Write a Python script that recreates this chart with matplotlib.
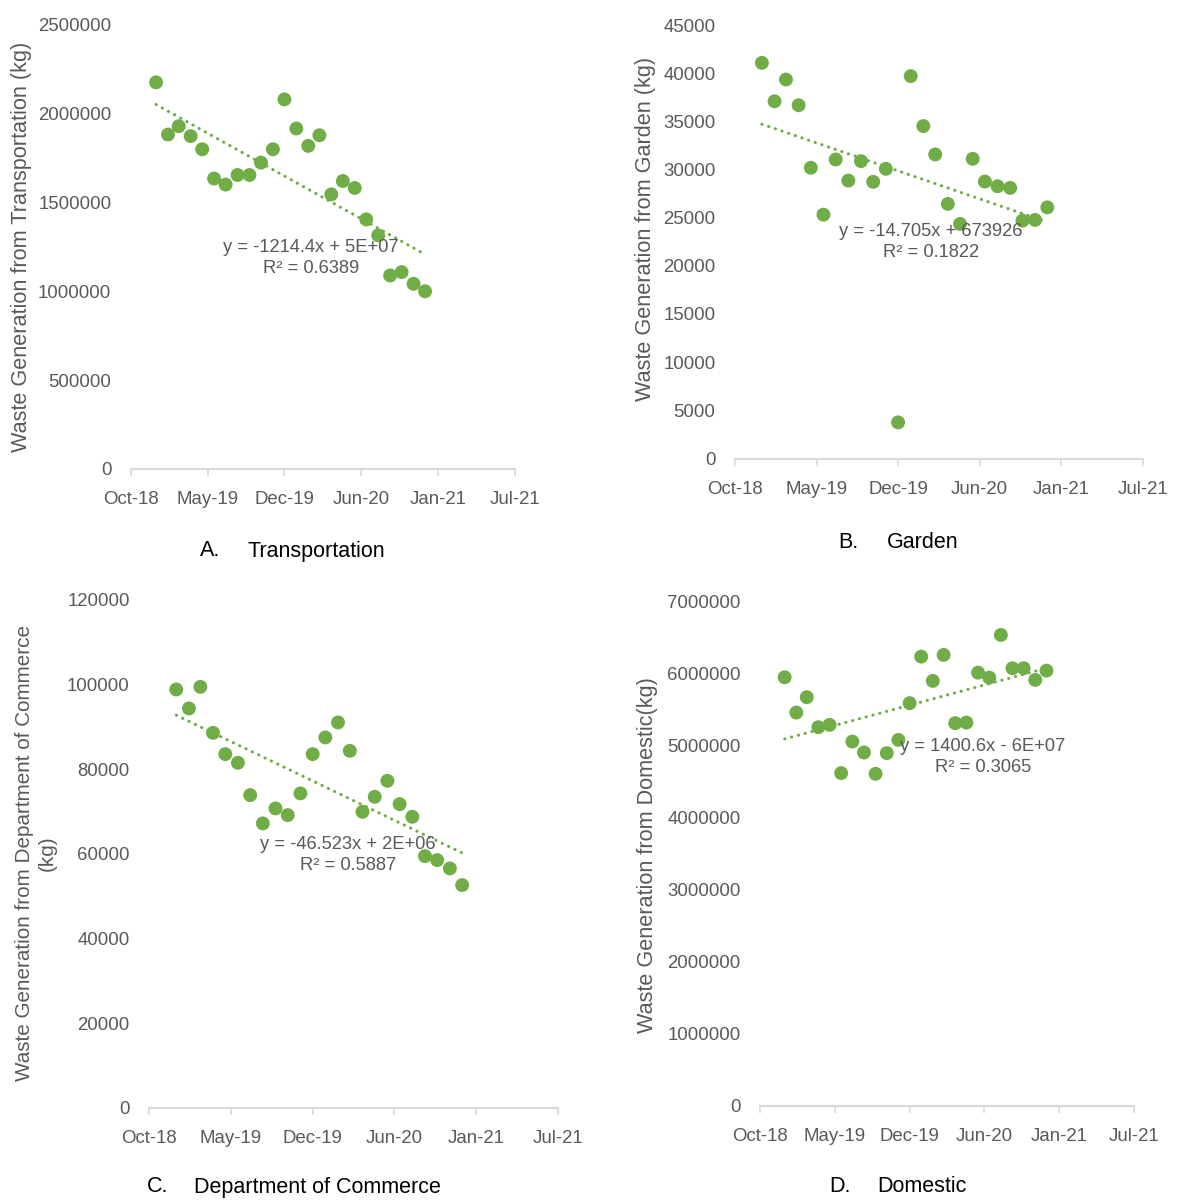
import matplotlib
matplotlib.use("Agg")
import matplotlib.dates as mdates
import matplotlib.pyplot as plt
import numpy as np
import pandas as pd

# monthly observations, Jan-19 .. Dec-20
months = pd.date_range("2019-01-01", periods=24, freq="MS")

transport = [2177000, 1883000, 1930000, 1874000, 1800000, 1635000, 1601000, 1655000,
             1655000, 1725000, 1800000, 2081000, 1917000, 1819000, 1879000, 1546000,
             1621000, 1582000, 1405000, 1315000, 1089000, 1108000, 1042000, 1000000]
garden = [41070, 37080, 39340, 36670, 30180, 25310, 31040, 28850,
          30870, 28720, 30070, 3750, 39690, 34510, 31560, 26430,
          24350, 31110, 28750, 28260, 28090, 24690, 24760, 26070]
commerce = [98870, 94380, 99480, 88620, 83590, 81540, 73910, 67230,
            70770, 69190, 74310, 83590, 87530, 91080, 84370, 69970,
            73510, 77290, 71780, 68790, 59500, 58560, 56600, 52660]
domestic = [5942000, 5452000, 5665000, 5249000, 5281000, 4612000, 5050000, 4898000,
            4602000, 4889000, 5073000, 5582000, 6228000, 5891000, 6252000, 5305000,
            5313000, 6006000, 5937000, 6529000, 6067000, 6067000, 5905000, 6034000]

ylabels = ["Waste Generation from Transportation (kg)",
           "Waste Generation from Garden (kg)",
           "Waste Generation from Department of Commerce\n(kg)",
           "Waste Generation from Domestic(kg)"]
equations = ["y = -1214.4x + 5E+07\nR² = 0.6389",
             "y = -14.705x + 673926\nR² = 0.1822",
             "y = -46.523x + 2E+06\nR² = 0.5887",
             "y = 1400.6x - 6E+07\nR² = 0.3065"]
caption_letters = ["A.", "B.", "C.", "D."]
caption_names = ["Transportation", "Garden", "Department of Commerce", "Domestic"]
ymax = [2500000, 45000, 120000, 7000000]
ystep = [500000, 5000, 20000, 1000000]

W, H = 1178, 1201
GREEN = "#70AD47"
GREY = "#595959"
FONT = ["Liberation Sans", "DejaVu Sans"]

# pixel layout: (left, right, y of zero, y of top)
boxes = [(130.7, 515.0, 468.8, 25.0),
         (735.0, 1142.7, 458.5, 25.0),
         (149.3, 557.7, 1108.0, 600.0),
         (760.0, 1134.0, 1105.5, 601.0)]
ylabel_pos = [(22, 247), (645, 229), (36, 853), (647, 855)]
ylabel_size = [15.6, 15.6, 14.9, 15.6]
eq_pos = [(311, 258), (931, 242), (348, 855), (983, 757)]
cap_pos = [(200, 248, 551), (838, 887, 542), (147, 194, 1187), (829, 877, 1187)]

tick_start = pd.Timestamp("2018-10-27")
xticks = [tick_start + pd.Timedelta(days=200 * k) for k in range(6)]

fig = plt.figure(figsize=(W / 100, H / 100), dpi=100)
series = [transport, garden, commerce, domestic]

for i, vals in enumerate(series):
    left, right, y0, ytop = boxes[i]
    ax = fig.add_axes([left / W, (H - y0) / H, (right - left) / W, (y0 - ytop) / H])

    x = mdates.date2num(months)
    ax.scatter(months, vals, s=100, color=GREEN, edgecolors="none", zorder=3)

    slope, icpt = np.polyfit(x, vals, 1)
    xs = np.array([x[0], x[-1]])
    ax.plot(mdates.num2date(xs), slope * xs + icpt, color=GREEN, lw=2.2,
            linestyle=(0, (0.1, 2.2)), dash_capstyle="round", zorder=2)

    ax.set_xlim(mdates.date2num(xticks[0]), mdates.date2num(xticks[-1]))
    ax.set_ylim(0, ymax[i])
    ax.set_xticks(xticks)
    ax.xaxis.set_major_formatter(mdates.DateFormatter("%b-%y"))
    ax.set_yticks(np.arange(0, ymax[i] + 1, ystep[i]))
    ax.yaxis.set_major_formatter(matplotlib.ticker.FuncFormatter(lambda v, p: f"{v:.0f}"))

    for side in ("top", "right", "left"):
        ax.spines[side].set_visible(False)
    ax.spines["bottom"].set_color("#D9D9D9")
    ax.spines["bottom"].set_linewidth(1.5)
    ax.tick_params(axis="x", direction="out", length=5, width=1.2, color="#D9D9D9",
                   pad=11, labelcolor=GREY)
    ax.tick_params(axis="y", length=0, pad=14, labelcolor=GREY)
    for lab in ax.get_xticklabels() + ax.get_yticklabels():
        lab.set_family(FONT)
        lab.set_fontsize(13.4)
    ax.patch.set_alpha(0)

    lx, ly = ylabel_pos[i]
    fig.text(lx / W, 1 - ly / H, ylabels[i], rotation=90, ha="center", va="center",
             family=FONT, fontsize=ylabel_size[i], color=GREY, multialignment="center")

    ex, ey = eq_pos[i]
    fig.text(ex / W, 1 - ey / H, equations[i], ha="center", va="center",
             family=FONT, fontsize=13.2, color=GREY, multialignment="center",
             linespacing=1.35, zorder=10)

    cx1, cx2, cy = cap_pos[i]
    fig.text(cx1 / W, 1 - cy / H, caption_letters[i], ha="left", va="center",
             family=FONT, fontsize=15.5, color="black")
    fig.text(cx2 / W, 1 - cy / H, caption_names[i], ha="left", va="center",
             family=FONT, fontsize=15.5, color="black")

fig.savefig("out.png", dpi=100, facecolor="white")
